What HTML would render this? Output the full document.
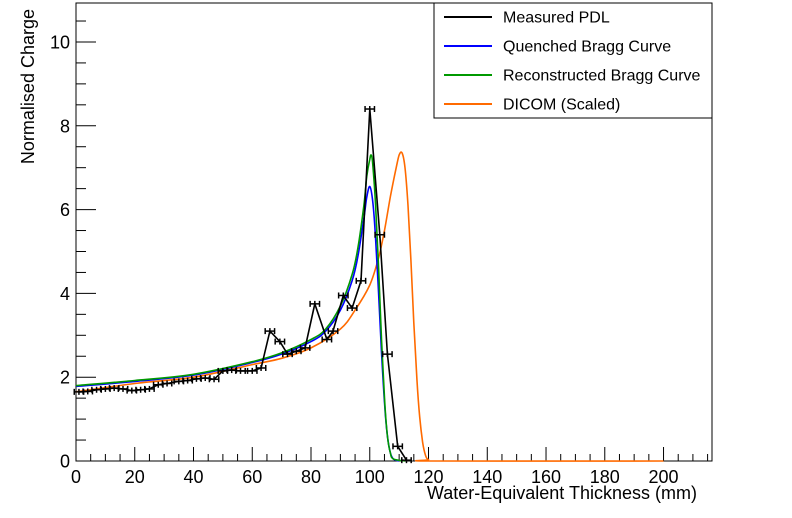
<!DOCTYPE html>
<html><head><meta charset="utf-8"><style>
body{margin:0;background:#fff;}
svg{display:block;font-family:"Liberation Sans",Arial,sans-serif;}
</style></head><body>
<svg id="c" width="792" height="518"></svg>
<script>
const pdlX=[1,4,7,10,13,16,19,22,25,28,31,35,38,41,44,47,50,53,56,60,63,66,69.4,72,75,78,81.3,85.4,87.5,91,94,97,100,103.4,106,109.5,112.5];
const pdlY=[1.65,1.66,1.7,1.72,1.74,1.72,1.68,1.7,1.72,1.82,1.85,1.9,1.92,1.96,1.98,1.95,2.15,2.17,2.15,2.15,2.22,3.1,2.85,2.55,2.62,2.7,3.75,2.9,3.1,3.95,3.65,4.3,8.4,5.4,2.55,0.35,0.02];
const qX=[0,20,40,60,70,80,85,90,94,96,98,99,100,101,102,103,104,105,106,107,108,110];
const qY=[1.78,1.9,2.05,2.35,2.55,2.85,3.1,3.6,4.3,4.9,5.8,6.3,6.55,6.2,5.3,4.0,2.6,1.4,0.6,0.2,0.05,0];
const rX=[0,20,40,60,70,80,85,90,94,96,98,99,100,100.5,101,102,103,104,105,106,107,108,112];
const rY=[1.8,1.92,2.07,2.37,2.58,2.9,3.15,3.7,4.45,5.1,6.1,6.8,7.2,7.3,7.1,6.1,4.6,2.9,1.5,0.6,0.2,0.05,0];
const dX=[0,20,40,60,70,80,90,95,100,103,105,107,109,110,111,112,113,114,115,116,117,118,119,120,122,200];
const dY=[1.65,1.85,2.0,2.3,2.45,2.7,3.15,3.6,4.2,4.85,5.5,6.3,7.0,7.3,7.35,7.0,6.1,4.8,3.3,2.0,1.05,0.45,0.13,0.03,0,0];
const xTicks=[0,20,40,60,80,100,120,140,160,180,200];
const yTicks=[0,2,4,6,8,10];

const L=76,R=712,T=3,B=461,XMAX=216.5,YMAX=10.93;
const sx=v=>L+v/XMAX*(R-L), sy=v=>B-v/YMAX*(B-T);
const svg=document.getElementById('c');
const NS='http://www.w3.org/2000/svg';
function mk(tag,attrs,parent){const e=document.createElementNS(NS,tag);for(const k in attrs)e.setAttribute(k,attrs[k]);(parent||svg).appendChild(e);return e;}

const frame=mk('rect',{x:L,y:T,width:R-L,height:B-T,fill:'none',stroke:'#000','stroke-width':1});



for(let v=0;v<=XMAX;v+=5){const maj=v%20===0;const t=mk('line',{x1:sx(v),x2:sx(v),y1:B,y2:B-(maj?14:7),stroke:'#000'});

}
for(let v=0;v<=YMAX;v+=0.5){const maj=Math.abs(v%2)<1e-9;const t=mk('line',{x1:L,x2:L+(maj?20:10),y1:sy(v),y2:sy(v),stroke:'#000'});

}
xTicks.forEach(v=>{const t=mk('text',{x:sx(v),y:483,'text-anchor':'middle','font-size':18});t.textContent=v;

});
yTicks.forEach(v=>{const t=mk('text',{x:70,y:sy(v)+6.5,'text-anchor':'end','font-size':18});t.textContent=v;

});
const xt=mk('text',{x:697,y:499,'text-anchor':'end','font-size':18});xt.textContent='Water-Equivalent Thickness (mm)';


const yt=mk('text',{x:0,y:0,'text-anchor':'end','font-size':18,transform:'translate(34,9) rotate(-90)'});yt.textContent='Normalised Charge';



function smooth(xs,ys){const P=xs.map((x,i)=>[sx(x),sy(ys[i])]);let d='M'+P[0][0].toFixed(1)+','+P[0][1].toFixed(1);
for(let i=0;i<P.length-1;i++){const p0=P[Math.max(0,i-1)],p1=P[i],p2=P[i+1],p3=P[Math.min(P.length-1,i+2)];
const c1=[p1[0]+(p2[0]-p0[0])/6,p1[1]+(p2[1]-p0[1])/6],c2=[p2[0]-(p3[0]-p1[0])/6,p2[1]-(p3[1]-p1[1])/6];
d+=' C'+c1.map(v=>v.toFixed(1)).join(',')+' '+c2.map(v=>v.toFixed(1)).join(',')+' '+p2.map(v=>v.toFixed(1)).join(',');}
return d;}
function curve(xs,ys,col,name){
const e=mk('path',{d:smooth(xs,ys),fill:'none',stroke:col,'stroke-width':1.6,'stroke-linejoin':'round'});

}
curve(dX,dY,'#ff6a00','dicom-curve');
curve(qX,qY,'#0000ff','quenched-curve');
curve(rX,rY,'#009900','reconstructed-curve');
const pl=mk('polyline',{points:pdlX.map((x,i)=>sx(x).toFixed(1)+','+sy(pdlY[i]).toFixed(1)).join(' '),fill:'none',stroke:'#000','stroke-width':1.6});


pdlX.forEach((x,i)=>{const g=mk('g',{stroke:'#000','stroke-width':1.5});


const y=sy(pdlY[i]),a=sx(x-1.6),b=sx(x+1.6);
mk('line',{x1:a,x2:b,y1:y,y2:y},g);mk('line',{x1:a,x2:a,y1:y-3,y2:y+3},g);mk('line',{x1:b,x2:b,y1:y-3,y2:y+3},g);
mk('line',{x1:sx(x),x2:sx(x),y1:y-3,y2:y+3},g);});

const lg=mk('g',{});


mk('rect',{x:434,y:3,width:278,height:115,fill:'#fff',stroke:'#000'},lg);
[['Measured PDL','#000'],['Quenched Bragg Curve','#0000ff'],['Reconstructed Bragg Curve','#009900'],['DICOM (Scaled)','#ff6a00']].forEach((d,i)=>{
const y=17+i*29;const e=mk('g',{},lg);


mk('line',{x1:444,x2:492,y1:y,y2:y,stroke:d[1],'stroke-width':2},e);
const t=mk('text',{x:503,y:y+5.5,'font-size':16},e);t.textContent=d[0];});
</script>
</body></html>
